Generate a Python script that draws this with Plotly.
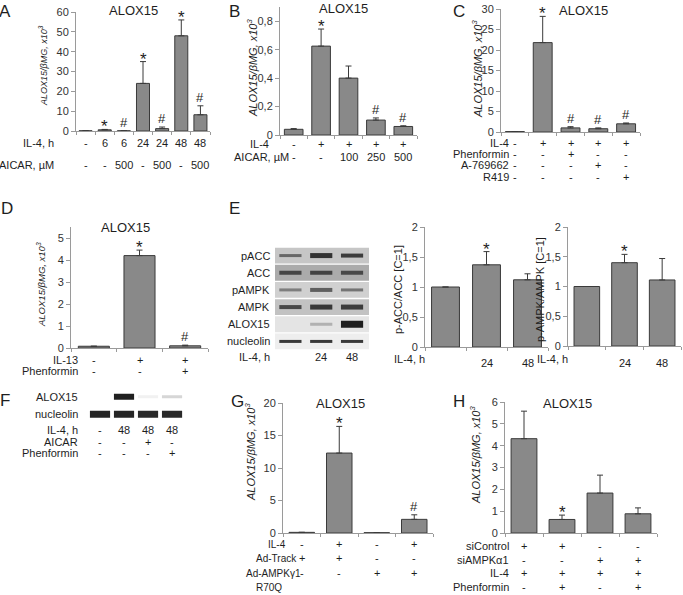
import plotly.graph_objects as go

W, H = 683, 595
FONT = "Liberation Sans, Arial, sans-serif"
BAR = "#898989"
EDGE = "#3a3a3a"
AX = "#9a9a9a"
TXT = "#1e1e1e"

# ------------------------- data -------------------------
A_il4 = ["-", "6", "6", "24", "24", "48", "48"]
A_aicar = ["-", "-", "500", "-", "500", "-", "500"]
A_val = [0.1, 0.6, 0.1, 24, 1.2, 48, 8.2]
A_err = [0, 0.2, 0, 11, 0.8, 8, 4.5]
A_sig = ["", "*", "#", "*", "#", "*", "#"]

B_il4 = ["-", "+", "+", "+", "+"]
B_aicar = ["-", "-", "100", "250", "500"]
B_val = [0.04, 0.625, 0.40, 0.105, 0.06]
B_err = [0.005, 0.12, 0.085, 0.015, 0.005]
B_sig = ["", "*", "", "#", "#"]

C_il4 = ["-", "+", "+", "+", "+"]
C_phen = ["-", "-", "+", "-", "-"]
C_a76 = ["-", "-", "-", "+", "-"]
C_r419 = ["-", "-", "-", "-", "+"]
C_val = [0.1, 21.8, 1.0, 0.8, 2.0]
C_err = [0, 6.4, 0.3, 0.2, 0.2]
C_sig = ["", "*", "#", "#", "#"]

D_il13 = ["-", "+", "+"]
D_phen = ["-", "-", "+"]
D_val = [0.08, 4.2, 0.1]
D_err = [0, 0.25, 0.03]
D_sig = ["", "*", "#"]

E_il4 = ["", "24", "48"]
E1_val = [1.0, 1.37, 1.12]
E1_err = [0, 0.22, 0.10]
E1_sig = ["", "*", ""]
E2_val = [1.0, 1.40, 1.11]
E2_err = [0, 0.14, 0.36]
E2_sig = ["", "*", ""]

E_blot_rows = ["pACC", "ACC", "pAMPK", "AMPK", "ALOX15", "nucleolin"]
E_blot_bg = ["#c6c6c6", "#ababab", "#d0d0d0", "#c2c2c2", "#e4e4e4", "#eeeeee"]
E_blot_int = [[0.55, 0.85, 0.80],
              [0.70, 0.72, 0.68],
              [0.45, 0.62, 0.50],
              [0.72, 0.82, 0.80],
              [0.00, 0.25, 0.97],
              [0.85, 0.85, 0.85]]
E_blot_thick = [[3, 5, 4], [4, 4, 4], [3, 4, 3], [4, 5, 5], [0, 3, 7], [3, 3, 3]]

F_blot_rows = ["ALOX15", "nucleolin"]
F_blot_int = [[0.0, 0.97, 0.06, 0.18],
              [0.95, 0.95, 0.93, 0.93]]
F_blot_thick = [[0, 6, 3, 3], [7, 7, 7, 7]]
F_il4 = ["-", "48", "48", "48"]
F_aicar = ["-", "-", "+", "-"]
F_phen = ["-", "-", "-", "+"]

G_il4 = ["-", "+", "-", "+"]
G_track = ["+", "+", "-", "-"]
G_ampk = ["-", "-", "+", "+"]
G_val = [0.1, 12.3, 0.05, 2.1]
G_err = [0, 4.1, 0, 0.7]
G_sig = ["", "*", "", "#"]

H_sicon = ["+", "+", "-", "-"]
H_siampk = ["-", "-", "+", "+"]
H_il4 = ["+", "+", "+", "+"]
H_phen = ["-", "+", "-", "+"]
H_val = [4.32, 0.62, 1.83, 0.88]
H_err = [1.26, 0.20, 0.82, 0.27]
H_sig = ["", "*", "", ""]

YT = "<i>ALOX15/βMG, x10<sup>3</sup></i>"

# ------------------------- layout spec (pixels) -------------------------
panels = [
    dict(k=1, val=A_val, err=A_err, sig=A_sig, box=(76, 210, 12, 131), ymax=60, dtick=10,
         title=(133, 10), ytitle=(YT, 43, 66, 9), fs=11,
         rows=[("IL-4, h", A_il4, 143), ("AICAR, µM", A_aicar, 165)], rl=("right", 56)),
    dict(k=2, val=B_val, err=B_err, sig=B_sig, box=(280, 417, 7, 135), ymax=0.9, dtick=0.2,
         title=(343, 9), ytitle=(YT, 252, 68, 11), fs=11,
         rows=[("IL-4", B_il4, 144), ("AICAR, µM", B_aicar, 157)], rl=("left", None),
         rlx=[248, 232]),
    dict(k=3, val=C_val, err=C_err, sig=C_sig, box=(501, 640, 9, 132), ymax=30, dtick=5,
         title=(583, 10), ytitle=(YT, 477, 69, 11), fs=11,
         rows=[("IL-4", C_il4, 143), ("Phenformin", C_phen, 154),
               ("A-769662", C_a76, 165), ("R419", C_r419, 177)], rl=("right", 511)),
    dict(k=4, val=D_val, err=D_err, sig=D_sig, box=(71, 208, 227, 348), ymax=5.5, dtick=1,
         title=(125, 227), ytitle=(YT, 41, 285, 9.5), fs=11,
         rows=[("IL-13", D_il13, 360), ("Phenformin", D_phen, 371)], rl=("right", 80)),
    dict(k=5, val=E1_val, err=E1_err, sig=E1_sig, box=(425, 548, 227, 347), ymax=2, dtick=0.5,
         title=None, ytitle=("p-ACC/ACC [C=1]", 398, 290, 11), fs=11,
         rows=[("", E_il4, 363)], rl=("left", None), rlx=[394], extra=("IL-4, h", 392, 359)),
    dict(k=6, val=E2_val, err=E2_err, sig=E2_sig, box=(568, 681, 227, 346), ymax=2, dtick=0.5,
         title=None, ytitle=("p-AMPK/AMPK [C=1]", 540, 290, 11), fs=11,
         rows=[("", E_il4, 363)], rl=("left", None), rlx=[537], extra=("IL-4, h", 535, 359)),
    dict(k=7, val=G_val, err=G_err, sig=G_sig, box=(283, 433, 403, 533), ymax=20, dtick=5,
         title=(340, 403), ytitle=(YT, 250, 452, 11), fs=10,
         rows=[("IL-4", G_il4, 544), ("Ad-Track", G_track, 558),
               ("Ad-AMPKγ1", G_ampk, 573), ("R70Q", [], 587)], rl=("left", None),
         rlx=[266, 254, 244, 254]),
    dict(k=8, val=H_val, err=H_err, sig=H_sig, box=(505, 657, 402, 533), ymax=6, dtick=1,
         title=(567, 403), ytitle=(YT, 475, 455, 11), fs=11,
         rows=[("siControl", H_sicon, 546), ("siAMPKα1", H_siampk, 560),
               ("IL-4", H_il4, 573), ("Phenformin", H_phen, 587)], rl=("right", 511)),
]

letters = [("A", 5, 0), ("B", 234, 0), ("C", 459, 0), ("D", 7, 197), ("E", 234, 197),
           ("F", 5, 389), ("G", 237, 390), ("H", 459, 390)]


def px(x):
    return x / W


def py(y):
    return 1 - y / H


def A(**kw):
    d = dict(showarrow=False, xanchor="center", yanchor="middle")
    d.update(kw)
    return d


fig = go.Figure()
layout = dict(width=W, height=H, margin=dict(l=0, r=0, t=0, b=0, pad=0, autoexpand=False),
              paper_bgcolor="white", plot_bgcolor="white", showlegend=False,
              separators=", ", font=dict(family=FONT, size=11, color=TXT))
ann = []
shapes = []

for p in panels:
    k = p["k"]
    n = len(p["val"])
    fs = p["fs"]
    x0, x1, yt, yb = p["box"]
    fig.add_trace(go.Bar(
        x=list(range(n)), y=p["val"], width=0.68,
        marker=dict(color=BAR, line=dict(color=EDGE, width=1)),
        error_y=dict(type="data", symmetric=False, array=p["err"], arrayminus=[0] * n,
                     color=EDGE, thickness=1, width=3),
        xaxis=f"x{k}", yaxis=f"y{k}", hoverinfo="skip"))
    layout[f"xaxis{k}"] = dict(domain=[px(x0), px(x1)], range=[-0.5, n - 0.5], anchor=f"y{k}",
                               showline=True, linecolor=AX, linewidth=1, automargin=False,
                               tickvals=[i - 0.5 for i in range(n + 1)], ticks="outside",
                               ticklen=3, tickcolor=AX, showticklabels=False,
                               showgrid=False, zeroline=False, fixedrange=True)
    layout[f"yaxis{k}"] = dict(domain=[py(yb), py(yt)], range=[0, p["ymax"]], dtick=p["dtick"],
                               tick0=0, anchor=f"x{k}", showline=True, linecolor=AX,
                               linewidth=1, ticks="outside", ticklen=4, tickcolor=AX,
                               automargin=False,
                               tickfont=dict(size=11, color="#333"), showgrid=False,
                               zeroline=False, fixedrange=True)
    for i, s in enumerate(p["sig"]):
        if s:
            ann.append(A(x=i, y=p["val"][i] + p["err"][i], xref=f"x{k}", yref=f"y{k}",
                         text=s, yanchor="bottom", yshift=(-9 if s == "*" else -1),
                         font=dict(size=(17 if s == "*" else 13), color=TXT)))
    if p["title"]:
        tx, ty = p["title"]
        ann.append(A(x=px(tx), y=py(ty), xref="paper", yref="paper", text="ALOX15",
                     font=dict(size=13, color=TXT)))
    t, tx, ty, tfs = p["ytitle"]
    ann.append(A(x=px(tx), y=py(ty), xref="paper", yref="paper", text=t, textangle=-90,
                 font=dict(size=tfs, color=TXT)))
    for r, (lab, vals, yy) in enumerate(p["rows"]):
        for i, v in enumerate(vals):
            if v:
                ann.append(A(x=i, y=py(yy), xref=f"x{k}", yref="paper", text=v,
                             font=dict(size=11, color=TXT)))
        if lab:
            side, xr = p["rl"]
            xx = xr if side == "right" else p["rlx"][r]
            ann.append(A(x=px(xx), y=py(yy), xref="paper", yref="paper", text=lab,
                         xanchor=side, font=dict(size=fs, color=TXT)))
    if p.get("extra"):
        lab, xx, yy = p["extra"]
        ann.append(A(x=px(xx), y=py(yy), xref="paper", yref="paper", text=lab,
                     xanchor="left", font=dict(size=fs, color=TXT)))


def mix(bg, inten):
    h = bg.lstrip("#")
    rgb = [int(h[j:j + 2], 16) for j in (0, 2, 4)]
    out = [round(c * (1 - inten) + 25 * inten) for c in rgb]
    return "rgb(%d,%d,%d)" % tuple(out)


# ---- E blot ----
kE = 9
layout[f"xaxis{kE}"] = dict(domain=[px(275), px(369)], range=[0.5, 3.55], visible=False,
                            anchor=f"y{kE}", fixedrange=True, automargin=False)
layout[f"yaxis{kE}"] = dict(domain=[py(350), py(247)], range=[5.5, -0.5], visible=False,
                            anchor=f"x{kE}", fixedrange=True, automargin=False)
for r, name in enumerate(E_blot_rows):
    shapes.append(dict(type="rect", xref=f"x{kE}", yref=f"y{kE}", x0=0.5, x1=3.55,
                       y0=r - 0.46, y1=r + 0.46, fillcolor=E_blot_bg[r], line=dict(width=0),
                       layer="below"))
    for ln in range(3):
        inten = E_blot_int[r][ln]
        if inten > 0:
            fig.add_trace(go.Scatter(x=[ln + 1 - 0.36, ln + 1 + 0.36], y=[r, r], mode="lines",
                                     line=dict(color=mix(E_blot_bg[r], inten),
                                               width=E_blot_thick[r][ln]),
                                     xaxis=f"x{kE}", yaxis=f"y{kE}", hoverinfo="skip"))
    ann.append(A(x=px(272), y=r, xref="paper", yref=f"y{kE}", text=name, xanchor="right",
                 font=dict(size=11, color=TXT)))
ann.append(A(x=px(272), y=py(357), xref="paper", yref="paper", text="IL-4, h",
             xanchor="right", font=dict(size=11, color=TXT)))
for ln, v in enumerate(E_il4):
    if v:
        ann.append(A(x=ln + 1, y=py(357), xref=f"x{kE}", yref="paper", text=v,
                     font=dict(size=11, color=TXT)))

# ---- F blot ----
kF = 10
layout[f"xaxis{kF}"] = dict(domain=[px(85), px(185)], range=[0.375, 4.54], visible=False,
                            anchor=f"y{kF}", fixedrange=True, automargin=False)
layout[f"yaxis{kF}"] = dict(domain=[py(423), py(388)], range=[1.5, -0.5], visible=False,
                            anchor=f"x{kF}", fixedrange=True, automargin=False)
for r, name in enumerate(F_blot_rows):
    for ln in range(4):
        inten = F_blot_int[r][ln]
        if inten > 0:
            fig.add_trace(go.Scatter(x=[ln + 1 - 0.42, ln + 1 + 0.42], y=[r, r], mode="lines",
                                     line=dict(color=mix("#ffffff", inten),
                                               width=F_blot_thick[r][ln]),
                                     xaxis=f"x{kF}", yaxis=f"y{kF}", hoverinfo="skip"))
    ann.append(A(x=px(80), y=r, xref="paper", yref=f"y{kF}", text=name, xanchor="right",
                 font=dict(size=11, color=TXT)))
for lab, vals, yy in [("IL-4, h", F_il4, 430), ("AICAR", F_aicar, 442),
                      ("Phenformin", F_phen, 453)]:
    ann.append(A(x=px(80), y=py(yy), xref="paper", yref="paper", text=lab, xanchor="right",
                 font=dict(size=11, color=TXT)))
    for ln, v in enumerate(vals):
        ann.append(A(x=ln + 1, y=py(yy), xref=f"x{kF}", yref="paper", text=v,
                     font=dict(size=11, color=TXT)))

for t, x, y in letters:
    ann.append(A(x=px(x), y=py(y), xref="paper", yref="paper", text=t, yanchor="top",
                 font=dict(size=17, color=TXT)))

layout["annotations"] = ann
layout["shapes"] = shapes
fig.update_layout(**layout)
fig.write_html("out.html", config={"displayModeBar": False},
               post_script="document.body.style.margin='0';document.body.style.overflow='hidden';")
